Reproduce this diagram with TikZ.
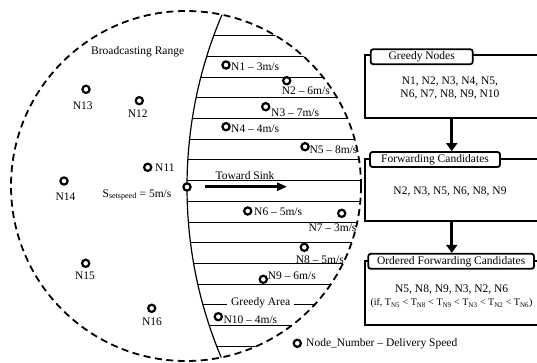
\documentclass[tikz,border=0pt]{standalone}
\usepackage{fontspec}
\setmainfont{Liberation Serif}
\usetikzlibrary{arrows.meta}
\begin{document}
\begin{tikzpicture}[x=1pt,y=-1pt,
  every node/.style={font=\fontsize{11.5}{13.3}\selectfont, inner sep=0pt},
  sn/.style={circle, draw, line width=2.2pt, fill=white, minimum size=7.2pt, inner sep=0pt},
  lbl/.style={anchor=west},
  titlebox/.style={draw, rounded corners=2.5pt, line width=1.8pt, fill=white, minimum height=15pt, inner sep=0pt},
  bigbox/.style={draw, line width=1.8pt, inner sep=0pt, minimum width=173.5pt},
  flow/.style={line width=3pt, -{Triangle[width=11pt,length=8pt]}},
  hline/.style={line width=0.9pt},
]
\useasboundingbox (0,0) rectangle (537,362);
\clip (0,0) rectangle (537,362);

% greedy area stripes
\begin{scope}
  \clip (186,186) circle (175pt);
  \clip (627,187) circle (440pt);
  \foreach \k in {0,...,15} {
    \draw[hline] (150,{35.7+20.7*\k}) -- (400,{35.7+20.7*\k});
  }
\end{scope}
\begin{scope}
  \clip (186,186) circle (175pt);
  \draw[line width=1.2pt] (627,187) circle (440pt);
\end{scope}

% broadcasting range
\draw[dash pattern=on 7pt off 4.5pt, line width=1.8pt] (186,186) circle (175pt);

% greedy area label
\node[fill=white, inner xsep=4pt, inner ysep=1pt] (ga) at (260.7,302.7) {Greedy Area};

% sender and sink direction
\node[sn] (s) at (187,187) {};
\coordinate (ts1) at (205,186.7);
\coordinate (ts2) at (287,186.7);
\draw[line width=2.5pt, -{Triangle[width=8pt,length=10pt]}] (ts1) -- (ts2);
\node (tst) at (245,175.7) {Toward Sink};
\node (sspd) at (137,195) {S\textsubscript{setspeed} = 5m/s};
\node (br) at (137.7,51.7) {Broadcasting Range};

% greedy nodes
\node[sn] (n1) at (226,65) {};    \node[lbl] (l1) at (231,67) {N1 – 3m/s};
\node[sn] (n2) at (286.7,80.7) {};\node[lbl] (l2) at (281.7,90.7) {N2 – 6m/s};
\node[sn] (n3) at (265.7,106.7) {};\node[lbl] (l3) at (271,112.7) {N3 – 7m/s};
\node[sn] (n4) at (226,126.7) {}; \node[lbl] (l4) at (231,128.7) {N4 – 4m/s};
\node[sn] (n5) at (305,146.7) {}; \node[lbl] (l5) at (309.3,150) {N5 – 8m/s};
\node[sn] (n6) at (247.7,211) {}; \node[lbl] (l6) at (254,211.7) {N6 – 5m/s};
\node[sn] (n7) at (341.7,213.3) {};\node[lbl] (l7) at (308.3,227.7) {N7 – 3m/s};
\node[sn] (n8) at (304.3,247.3) {};\node[lbl] (l8) at (295.7,259.3) {N8 – 5m/s};
\node[sn] (n9) at (263.3,279.3) {};\node[lbl] (l9) at (267.7,275.7) {N9 – 6m/s};
\node[sn] (n10) at (218.3,316.7) {};\node[lbl] (l10) at (223.3,320) {N10 – 4m/s};

% other nodes
\node[sn] (n11) at (147.7,167.3) {};\node[lbl] (l11) at (155,168) {N11};
\node[sn] (n12) at (139.3,100.7) {};\node (l12) at (137.7,114) {N12};
\node[sn] (n13) at (86,89.3) {};    \node (l13) at (82.7,106) {N13};
\node[sn] (n14) at (64,181) {};     \node (l14) at (65.5,196.5) {N14};
\node[sn] (n15) at (85.7,263.3) {}; \node (l15) at (85,276) {N15};
\node[sn] (n16) at (151.7,308.3) {};\node (l16) at (152,321.7) {N16};

% legend
\node[sn] (lg) at (297.3,343.3) {};
\node[lbl] (lgt) at (306,343.3) {Node\_Number – Delivery Speed};

% boxes
\node[bigbox, minimum height=63.3pt] (b1) at (451.75,86.65) {};
\node[titlebox, minimum width=102pt] (t1) at (421.7,56.7) {Greedy Nodes};
\node[align=center] (c1) at (450,88.3) {N1, N2, N3, N4, N5,\\N6, N7, N8, N9, N10};

\node[bigbox, minimum height=62pt] (b2) at (451.75,190) {};
\node[titlebox, minimum width=130pt] (t2) at (435,159.5) {Forwarding Candidates};
\node (c2) at (450,191.7) {N2, N3, N5, N6, N8, N9};

\node[bigbox, minimum height=64.3pt] (b3) at (451.75,292.85) {};
\node[titlebox, minimum width=165.7pt] (t3) at (451.15,261.3) {Ordered Forwarding Candidates};
\node (c3) at (451.7,289.3) {N5, N8, N9, N3, N2, N6};
\node[font=\fontsize{10}{12}\selectfont] (c3b) at (451.5,303.3)
  {(if, T\textsubscript{N5} < T\textsubscript{N8} < T\textsubscript{N9} < T\textsubscript{N3} < T\textsubscript{N2} < T\textsubscript{N6})};

\draw[flow] (b1.south) -- (b1.south |- t2.north);
\draw[flow] (b2.south) -- (b2.south |- t3.north);
\end{tikzpicture}
\end{document}
